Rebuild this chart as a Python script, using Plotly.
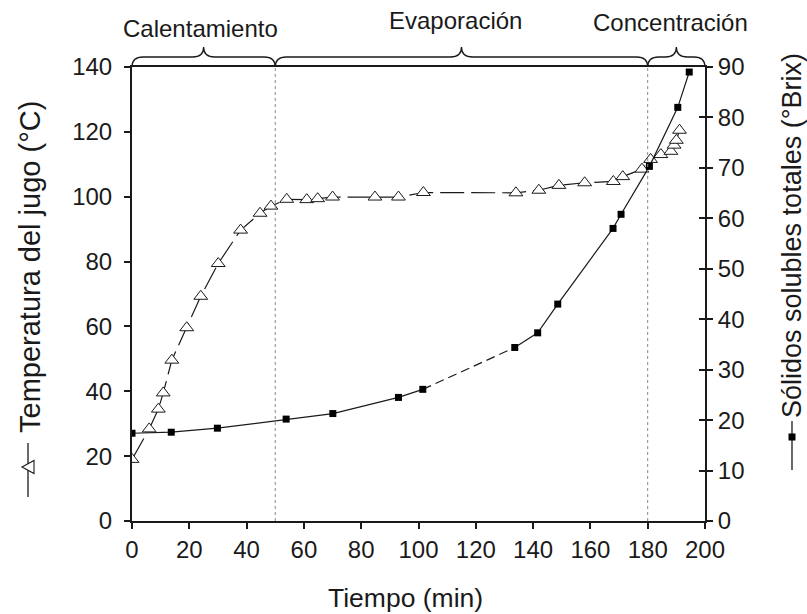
import plotly.graph_objects as go

# ---------------- data ----------------
temp_t = [0, 6, 9.2, 10.9, 13.9, 19.1, 24, 30.1, 37.9, 44.7, 48.5, 54, 61, 64.8, 70,
          84.8, 93, 101.7, 134, 142, 149, 158, 168, 171.3, 178, 181, 184.6, 188.1,
          189.2, 190, 191.1]
temp_v = [19, 28.4, 34.5, 39.5, 49.6, 59.6, 69.3, 79.4, 89.7, 94.9, 97.1, 99.2, 99.1,
          99.4, 99.9, 99.9, 99.9, 101.3, 101.2, 102, 103.5, 104.3, 104.7, 106.2, 108.5,
          111.5, 113, 114, 115.9, 117.4, 120.5]

brix_t = [0, 13.7, 29.8, 53.8, 70.1, 93, 101.5, 133.6, 141.6, 148.6, 167.9, 170.7,
          180.6, 190.5, 194.5]
brix_v = [17.4, 17.6, 18.4, 20.2, 21.3, 24.5, 26.1, 34.4, 37.3, 43.0, 58.0, 60.8,
          70.3, 82.0, 89.0]
# line style of the brix curve: (first index, last index, dash)
brix_segments = [(0, 6, "solid"), (6, 7, "9px,5px"), (7, 14, "solid")]

phase_bounds = [0, 50, 180, 200]
phase_names = ["Calentamiento", "Evaporación", "Concentración"]
phase_label_x = [24, 113, 188]
phase_label_y = [1.085, 1.103, 1.098]

x_ticks = list(range(0, 201, 20))
yl_ticks = list(range(0, 141, 20))
yr_ticks = list(range(0, 91, 10))

# ---------------- figure ----------------
W, H = 807, 614
ML, MR, MT, MB = 132, 102, 67, 93
PW, PH = W - ML - MR, H - MT - MB
FONT = "Liberation Sans, Arial, sans-serif"
INK = "#1a1a1a"


def px_x(px):
    return (px - ML) / PW


def px_y(py):
    return (H - MB - py) / PH


fig = go.Figure()

# brix curve (right axis) by segments
for i0, i1, dash in brix_segments:
    fig.add_trace(go.Scatter(
        x=brix_t[i0:i1 + 1], y=brix_v[i0:i1 + 1], yaxis="y2", mode="lines",
        line=dict(color=INK, width=1.2, dash=dash), hoverinfo="skip", showlegend=False))
fig.add_trace(go.Scatter(
    x=brix_t, y=brix_v, yaxis="y2", mode="markers",
    marker=dict(symbol="square", size=7, color="black"), showlegend=False))

# temperature curve (left axis)
fig.add_trace(go.Scatter(
    x=temp_t, y=temp_v, mode="lines+markers",
    line=dict(color=INK, width=1.2, dash="24px,7px"),
    marker=dict(symbol="triangle-up", size=12, color="white",
                line=dict(color=INK, width=1)),
    showlegend=False))

# dummy for inside ticks on right
fig.add_trace(go.Scatter(x=[None], y=[None], yaxis="y3", showlegend=False))

shapes = []
# dotted phase separators
for b in phase_bounds[1:-1]:
    shapes.append(dict(type="line", xref="x", yref="paper", x0=b, x1=b, y0=0, y1=1,
                       line=dict(color="#888888", width=1, dash="dot")))

# braces above the plot
r = 11 / PW
y0 = 1.0
y1 = 1 + 10 / PH
y2 = 1 + 20 / PH
for a, b in zip(phase_bounds[:-1], phase_bounds[1:]):
    xa, xb = a / 200, b / 200
    xm = (xa + xb) / 2
    path = (f"M {xa},{y0} Q {xa},{y1} {xa + r},{y1} L {xm - r},{y1} "
            f"Q {xm},{y1} {xm},{y2} Q {xm},{y1} {xm + r},{y1} "
            f"L {xb - r},{y1} Q {xb},{y1} {xb},{y0}")
    shapes.append(dict(type="path", xref="paper", yref="paper", path=path,
                       line=dict(color=INK, width=1.3)))

# legend-like symbols in front of the axis titles
shapes.append(dict(type="line", xref="paper", yref="paper",
                   x0=px_x(28), x1=px_x(28), y0=px_y(443), y1=px_y(497),
                   line=dict(color=INK, width=1.3)))
tri = (f"M {px_x(22)},{px_y(467)} L {px_x(34)},{px_y(460.5)} "
       f"L {px_x(34)},{px_y(473.5)} Z")
shapes.append(dict(type="path", xref="paper", yref="paper", path=tri,
                   fillcolor="white", line=dict(color=INK, width=1.1)))
shapes.append(dict(type="line", xref="paper", yref="paper",
                   x0=px_x(792), x1=px_x(792), y0=px_y(421), y1=px_y(470),
                   line=dict(color=INK, width=1.3)))
shapes.append(dict(type="rect", xref="paper", yref="paper",
                   x0=px_x(788.5), x1=px_x(795.5), y0=px_y(433.5), y1=px_y(440.5),
                   fillcolor="black", line=dict(color="black", width=0)))

annotations = []
for name, lx, ly in zip(phase_names, phase_label_x, phase_label_y):
    annotations.append(dict(text=name, x=lx, y=ly, xref="x", yref="paper",
                            showarrow=False, xanchor="center", yanchor="middle",
                            font=dict(family=FONT, size=24, color=INK)))

annotations.append(dict(
    text="Temperatura del jugo (°C)",
    x=px_x(30), y=px_y(267), xref="paper", yref="paper", textangle=-90,
    showarrow=False, xanchor="center", yanchor="middle",
    font=dict(family=FONT, size=29, color=INK)))
annotations.append(dict(
    text="Sólidos solubles totales (°Brix)",
    x=px_x(792), y=px_y(236), xref="paper", yref="paper", textangle=-90,
    showarrow=False, xanchor="center", yanchor="middle",
    font=dict(family=FONT, size=27, color=INK)))
annotations.append(dict(
    text="Tiempo (min)", x=px_x(405), y=px_y(598), xref="paper", yref="paper",
    showarrow=False, xanchor="center", yanchor="middle",
    font=dict(family=FONT, size=26.5, color=INK)))

axis_common = dict(showgrid=False, zeroline=False, showline=True, linecolor=INK,
                   linewidth=2, tickcolor=INK, tickwidth=2,
                   tickfont=dict(family=FONT, size=24, color=INK))

fig.update_layout(
    width=W, height=H,
    margin=dict(l=ML, r=MR, t=MT, b=MB),
    paper_bgcolor="white", plot_bgcolor="white",
    xaxis=dict(range=[0, 200], tickvals=x_ticks, ticks="outside", ticklen=6,
               mirror=True, **axis_common),
    yaxis=dict(range=[0, 140], tickvals=yl_ticks, ticks="outside", ticklen=6,
               ticklabelstandoff=7, **axis_common),
    yaxis2=dict(range=[0, 90], tickvals=yr_ticks, ticks="outside", ticklen=6,
                overlaying="y", side="right", **axis_common),
    yaxis3=dict(range=[0, 90], tickvals=yr_ticks, ticks="inside", ticklen=6,
                overlaying="y", side="right", showticklabels=False,
                showgrid=False, zeroline=False, showline=False,
                tickcolor=INK, tickwidth=2),
    shapes=shapes, annotations=annotations,
)

fig.write_html("out.html")
